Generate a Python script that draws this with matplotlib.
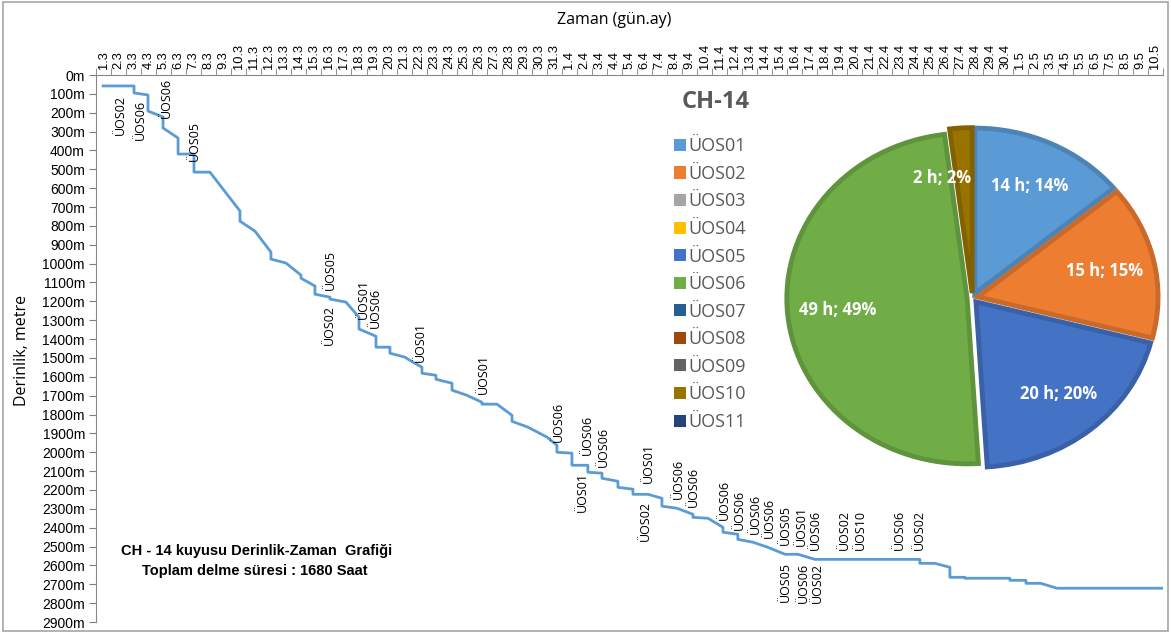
import matplotlib.pyplot as plt
from matplotlib.patches import Patch, Rectangle
from matplotlib.colors import to_rgb

# --- data ---------------------------------------------------------------
# gün.ay etiketleri (1 Mart - 10 Mayıs)
dates = ([f"{d}.3" for d in range(1, 32)] + [f"{d}.4" for d in range(1, 31)]
         + [f"{d}.5" for d in range(1, 11)])

# elapsed days from 1.3 00:00 and depth (m)
day = [0.47, 2.53, 2.53, 3.46, 3.46, 4.46, 4.46, 5.46, 5.46, 6.52,
       6.52, 7.58, 9.58, 9.58, 10.58, 11.64, 11.64, 12.64, 13.64, 13.64,
       14.57, 14.57, 15.57, 15.57, 16.63, 17.50, 17.50, 18.63, 18.63, 19.56,
       19.56, 20.56, 21.09, 21.69, 21.69, 22.62, 22.62, 23.69, 23.69, 24.68,
       25.68, 25.68, 26.68, 27.68, 27.68, 28.74, 30.01, 30.67, 30.67, 31.67,
       31.67, 32.73, 32.73, 33.67, 33.67, 34.73, 34.73, 35.73, 35.73, 36.73,
       37.66, 37.66, 38.66, 39.72, 39.72, 40.72, 41.72, 41.72, 42.71, 42.71,
       43.71, 44.71, 45.84, 46.71, 47.84, 54.82, 54.82, 55.82, 56.82, 56.82,
       57.82, 57.82, 60.81, 60.81, 61.88, 61.88, 62.87, 63.94, 70.99]
depth = [58, 58, 95, 106, 191, 223, 281, 334, 419, 419,
         515, 515, 721, 775, 828, 939, 976, 997, 1061, 1077,
         1119, 1162, 1178, 1188, 1204, 1284, 1347, 1385, 1443, 1443,
         1475, 1496, 1523, 1549, 1581, 1592, 1613, 1634, 1671, 1698,
         1735, 1745, 1745, 1804, 1836, 1867, 1920, 1963, 2000, 2005,
         2069, 2069, 2106, 2111, 2138, 2154, 2186, 2196, 2223, 2223,
         2244, 2286, 2297, 2329, 2345, 2350, 2398, 2424, 2435, 2462,
         2477, 2504, 2541, 2541, 2568, 2568, 2589, 2589, 2610, 2663,
         2663, 2668, 2668, 2679, 2679, 2695, 2695, 2721, 2721]

# bit change notes
ann_text = ["ÜOS02", "ÜOS06", "ÜOS06", "ÜOS05", "ÜOS05", "ÜOS02", "ÜOS01", "ÜOS06",
            "ÜOS01", "ÜOS01", "ÜOS06", "ÜOS06", "ÜOS06", "ÜOS01", "ÜOS01", "ÜOS02",
            "ÜOS06", "ÜOS06", "ÜOS06", "ÜOS06", "ÜOS06", "ÜOS06", "ÜOS05", "ÜOS01",
            "ÜOS06", "ÜOS05", "ÜOS06", "ÜOS02", "ÜOS02", "ÜOS10", "ÜOS06", "ÜOS02"]
ann_day = [1.60, 2.93, 4.66, 6.52, 15.57, 15.50, 17.76, 18.56,
           21.56, 25.75, 30.74, 32.73, 33.73, 32.34, 36.73, 36.53,
           38.72, 39.72, 41.78, 42.78, 43.85, 44.84, 45.84, 46.91,
           47.84, 45.84, 47.04, 47.97, 49.83, 50.83, 53.49, 54.82]
ann_depth = [212, 239, 122, 350, 1034, 1326, 1188, 1236,
             1416, 1586, 1841, 1910, 1973, 2212, 2058, 2366,
             2143, 2186, 2255, 2308, 2329, 2350, 2387, 2393,
             2414, 2690, 2695, 2695, 2414, 2414, 2414, 2414]

# pie: hours per bit type
bits = ["ÜOS01", "ÜOS02", "ÜOS03", "ÜOS04", "ÜOS05", "ÜOS06",
        "ÜOS07", "ÜOS08", "ÜOS09", "ÜOS10", "ÜOS11"]
hours = [14, 15, 0, 0, 20, 49, 0, 0, 0, 2, 0]
bit_colors = ["#5B9BD5", "#ED7D31", "#A5A5A5", "#FFC000", "#4472C4", "#70AD47",
              "#255E91", "#9E480E", "#636363", "#997300", "#264478"]

# --- figure -------------------------------------------------------------
W, H = 1171, 634
fig = plt.figure(figsize=(W / 100, H / 100), dpi=100)
fig.patches.append(Rectangle((3 / W, 1 - 631 / H), 1165 / W, 629 / H,
                             transform=fig.transFigure, fill=False,
                             edgecolor="#A6A6A6", lw=1.2))

ax = fig.add_axes([96 / W, 1 - 622 / H, 1067 / W, 547 / H])
ax.plot(day, depth, color="#5B9BD5", lw=2.0)
ax.set_xlim(0, len(dates))
ax.set_ylim(2900, 0)

ax.xaxis.tick_top()
ax.set_xticks([i + 0.5 for i in range(len(dates))])
ax.set_xticklabels(dates, rotation=90, fontsize=9.3, family="Liberation Sans")
ax.set_xticks(range(len(dates) + 1), minor=True)
ax.tick_params(axis="x", which="major", length=0, pad=4)
ax.tick_params(axis="x", which="minor", length=5, color="#808080", top=True, bottom=False)
ax.set_yticks(range(0, 3000, 100))
ax.set_yticklabels([f"{v}m" for v in range(0, 3000, 100)], fontsize=10,
                   family="Liberation Sans")
ax.tick_params(axis="y", length=5, color="#808080", pad=3)
for s in ["right", "bottom"]:
    ax.spines[s].set_visible(False)
for s in ["left", "top"]:
    ax.spines[s].set_color("#868686")

fig.text(614 / W, 1 - 20 / H, "Zaman (gün.ay)", ha="center", va="center",
         fontsize=11.5, family="Open Sans")
fig.text(22 / W, 1 - 350 / H, "Derinlik, metre", ha="center", va="center",
         rotation=90, fontsize=11.5, family="Open Sans")

for t, x, y in zip(ann_text, ann_day, ann_depth):
    ax.text(x, y, t, rotation=90, ha="center", va="center", fontsize=9,
            family="Open Sans")

fig.text(257 / W, 1 - 551 / H, "CH - 14 kuyusu Derinlik-Zaman  Grafiği",
         ha="center", va="center", fontsize=10.5, fontweight="bold",
         family="Liberation Sans")
fig.text(255 / W, 1 - 571 / H, "Toplam delme süresi : 1680 Saat",
         ha="center", va="center", fontsize=10.5, fontweight="bold",
         family="Liberation Sans")

# --- pie ----------------------------------------------------------------
vals = [h for h in hours if h > 0]
cols = [c for h, c in zip(hours, bit_colors) if h > 0]
total = sum(vals)
pax = fig.add_axes([785 / W, 1 - 470 / H, 375 / W, 344 / H])
wedges, _, autotexts = pax.pie(
    vals, colors=cols, startangle=90, counterclock=False,
    explode=[0.03] * len(vals), pctdistance=0.72,
    autopct=lambda p: f"{round(p * total / 100)} h; {round(p)}%",
    textprops=dict(color="white", fontweight="bold", fontsize=12,
                   family="Open Sans"))
for w, c in zip(wedges, cols):
    r, g, b = to_rgb(c)
    w.set_edgecolor((r * 0.85, g * 0.85, b * 0.85))
    w.set_linewidth(3.5)
# small slice label sits left of its wedge, on the green one
lx, ly = autotexts[-1].get_position()
autotexts[-1].set_position((lx - 0.12, ly - 0.02))
pax.set_aspect("auto")
pax.set_xlim(-1.04, 1.04)
pax.set_ylim(-1.04, 1.04)

fig.text(716 / W, 1 - 102 / H, "CH-14", ha="center", va="center",
         fontsize=17, fontweight="bold", color="#595959", family="Open Sans")

handles = [Patch(facecolor=c, edgecolor="none") for c in bit_colors]
fig.legend(handles, bits, loc="upper left", bbox_to_anchor=(658 / W, 1 - 121 / H),
           frameon=False, labelcolor="#595959", handlelength=0.65,
           handleheight=0.65, handletextpad=0.15, labelspacing=0.53,
           prop=dict(family="Open Sans", size=13))

fig.savefig("out.png", dpi=100)
